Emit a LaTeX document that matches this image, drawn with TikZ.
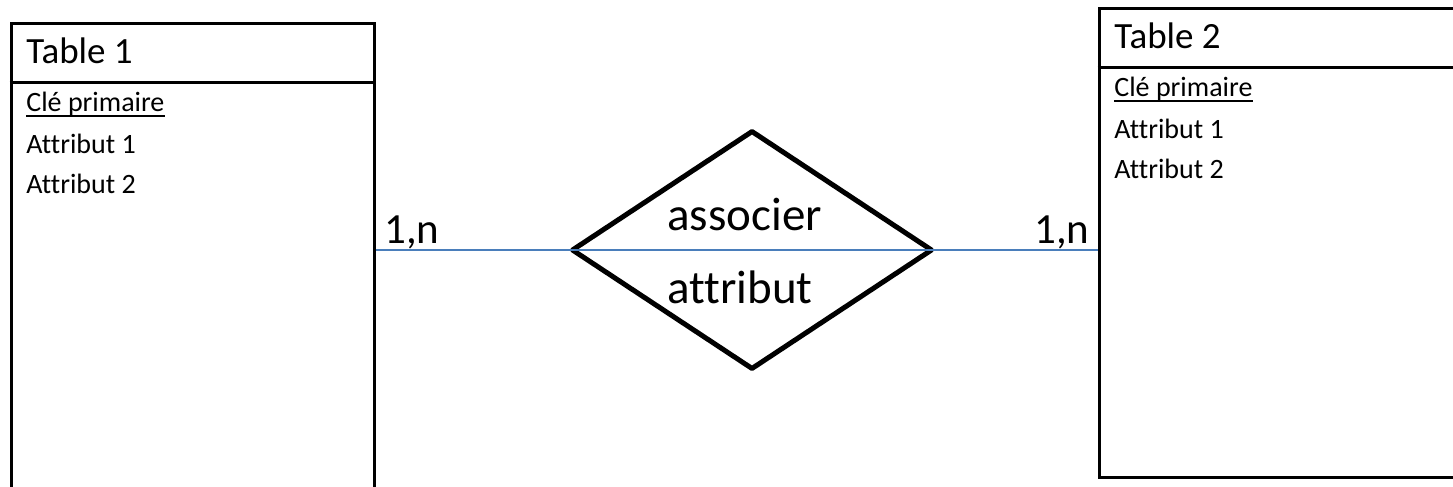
\documentclass[tikz,border=0pt]{standalone}
\usepackage{fontspec}
\setmainfont[Ligatures=NoCommon]{Carlito}
\usepackage{tikz}
\usetikzlibrary{shapes.geometric}
\definecolor{linkblue}{HTML}{4A7EBB}
\tikzset{
  tablebox/.style={draw,rectangle,line width=1.5pt,inner sep=0pt},
  relbox/.style={draw,diamond,line width=2.5pt,line join=round,inner sep=0pt,
    minimum width=180.5pt,minimum height=119.5pt},
  title/.style={anchor=base west,inner sep=0pt,font=\fontsize{18.5}{22}\selectfont},
  field/.style={anchor=base west,inner sep=0pt,font=\fontsize{14}{17}\selectfont},
  card/.style={anchor=base west,inner sep=0pt,font=\fontsize{21.5}{26}\selectfont},
  rel/.style={anchor=base west,inner sep=0pt,font=\fontsize{23.5}{28}\selectfont},
  link/.style={linkblue,line width=1pt}
}

\begin{document}
\begin{tikzpicture}[x=0.5pt,y=-0.5pt]
                \useasboundingbox (0,0) rectangle (1453,487);
                \clip (0,0) rectangle (1453,487);

                %first table, cut by the bottom edge
                \node (T1) at (192.5,261.5) [tablebox,minimum width=181.5pt,minimum height=238.5pt]{};
                \draw[line width=1.5pt] (T1.west |- 0,82) -- (T1.east |- 0,82);
                \node (T1name) at (26,63) [title]{Table 1};
                \node (T1key) at (26,112) [field]{Clé primaire};
                \draw[line width=0.75pt] ([yshift=-2pt]T1key.base west) -- ([yshift=-2pt]T1key.base east);
                \node (T1att1) at (26,153) [field]{Attribut 1};
                \node (T1att2) at (26,193) [field]{Attribut 2};

                %second table, cut by the right edge
                \node (T2) at (1282,242.5) [tablebox,minimum width=183pt,minimum height=234.5pt]{};
                \draw[line width=1.5pt] (T2.west |- 0,67) -- (T2.east |- 0,67);
                \node (T2name) at (1114,48) [title]{Table 2};
                \node (T2key) at (1114,97) [field]{Clé primaire};
                \draw[line width=0.75pt] ([yshift=-2pt]T2key.base west) -- ([yshift=-2pt]T2key.base east);
                \node (T2att1) at (1114,138) [field]{Attribut 1};
                \node (T2att2) at (1114,178) [field]{Attribut 2};

                %the association in the middle
                \node (R) at (752,250) [relbox]{};
                \node (Rname) at (667,230) [rel]{associer};
                \node (Ratt) at (667,303) [rel]{attribut};

                %links with their cardinalities
                \draw[link] (T1.east |- R.west) -- (R.west) -- (R.east) -- (T2.west |- R.east);
                \node (C1) at (384,243) [card]{1,n};
                \node (C2) at (1034,243) [card]{1,n};
            \end{tikzpicture}
\end{document}
